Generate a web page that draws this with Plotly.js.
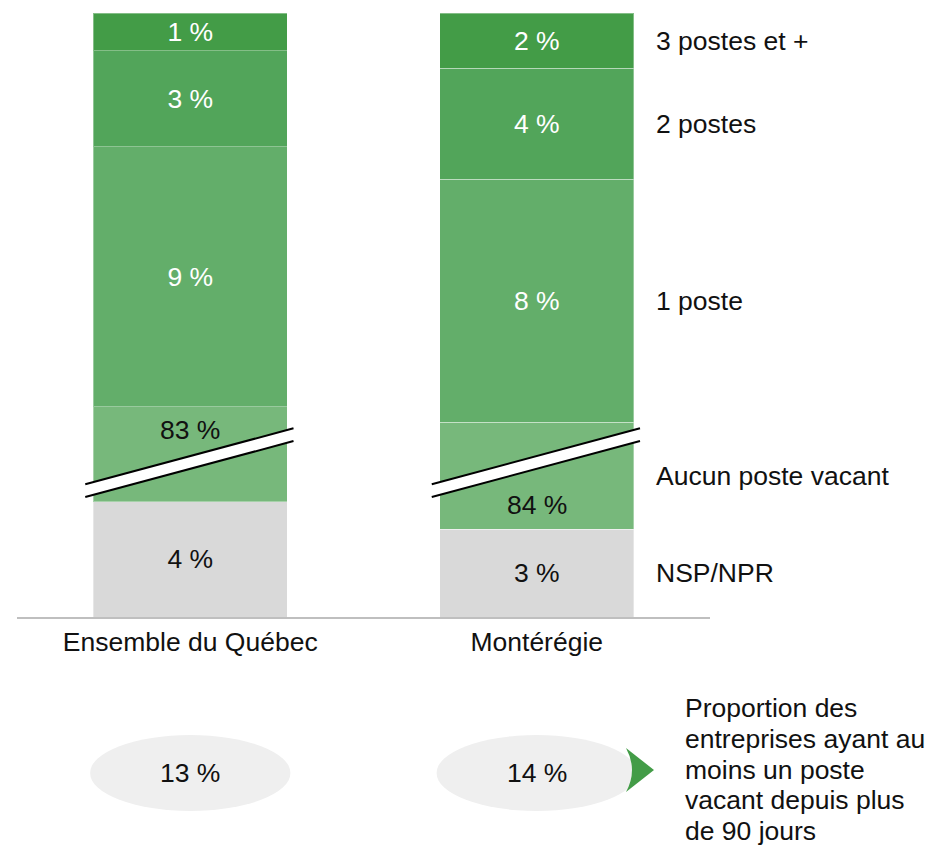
<!DOCTYPE html>
<html>
<head>
<meta charset="utf-8">
<script src="https://cdn.plot.ly/plotly-3.0.1.min.js"></script>
<style>html,body{margin:0;padding:0;background:#fff;}#chart{width:942px;height:847px;}</style>
</head>
<body>
<div id="chart"></div>
<script>
// ---- data (segment heights as drawn, in % units; "Aucun" is drawn truncated) ----
const categories = ['Ensemble du Québec', 'Montérégie'];
const seriesNames = ['NSP/NPR', 'Aucun poste vacant', '1 poste', '2 postes', '3 postes et +'];
const nspHeights = [3.97, 3.03];
const nspLabels = ['4 %', '3 %'];
const aucunHeights = [3.28, 3.69];       // truncated display (broken bar)
const aucunLabels = ['83 %', '84 %'];
const poste1Heights = [8.97, 8.38];
const poste1Labels = ['9 %', '8 %'];
const postes2Heights = [3.31, 3.83];
const postes2Labels = ['3 %', '4 %'];
const postes3Heights = [1.31, 1.90];
const postes3Labels = ['1 %', '2 %'];
const longVacancy = [13, 14];
const longVacancyLabels = ['13 %', '14 %'];
const noteLines = ['Proportion des', 'entreprises ayant au', 'moins un poste', 'vacant depuis plus', 'de 90 jours'];

const colors = ['#d9d9d9', '#77b87b', '#63ae6a', '#52a55a', '#439c47'];
const textColors = ['#111111', '#111111', '#ffffff', '#ffffff', '#ffffff'];
const FONT = 'Liberation Sans, Arial, sans-serif';
const FS = 26.5;

const xs = [0, 1];
const heights = [nspHeights, aucunHeights, poste1Heights, postes2Heights, postes3Heights];
const labels = [nspLabels, ['', ''], poste1Labels, postes2Labels, postes3Labels];

const traces = heights.map((h, i) => ({
  type: 'bar', x: xs, y: h, name: seriesNames[i],
  width: 0.56,
  marker: {color: colors[i], line: {color: 'rgba(255,255,255,0.35)', width: 1}},
  text: labels[i], textposition: 'inside', insidetextanchor: 'middle',
  constraintext: 'none', textangle: 0,
  textfont: {family: FONT, size: FS, color: textColors[i]},
  hoverinfo: 'skip', showlegend: false
}));

const totals = xs.map((_, j) => heights.reduce((s, arr) => s + arr[j], 0));
const yMax = Math.max(...totals);

// plot-area geometry (pixels) for paper conversions
const M = {l: 17, r: 232, t: 13, b: 230};
const W = 942, H = 847;
const pw = W - M.l - M.r, ph = H - M.t - M.b;
const px2paperX = px => (px - M.l) / pw;
const py2paperY = py => (H - M.b - py) / ph;

const annotations = [];
const shapes = [];
const txt = {family: FONT, size: FS, color: '#111111'};

// Aucun labels (placed clear of the break)
annotations.push({x: 0, y: nspHeights[0] + aucunHeights[0], xref: 'x', yref: 'y', yanchor: 'top', yshift: -6,
  text: aucunLabels[0], showarrow: false, font: txt});
annotations.push({x: 1, y: nspHeights[1], xref: 'x', yref: 'y', yanchor: 'bottom', yshift: 7,
  text: aucunLabels[1], showarrow: false, font: txt});

// series labels at right, aligned to Montérégie segments
let acc = 0;
heights.forEach((h, i) => {
  const mid = acc + h[1] / 2; acc += h[1];
  annotations.push({x: px2paperX(654), xref: 'paper', xanchor: 'left', y: mid, yref: 'y', yanchor: 'middle',
    text: seriesNames[i], showarrow: false, font: txt});
});

// break marks
const bx0 = -0.303, bx1 = 0.298, bLow = 4.14, bRise = 1.93, bGap = 0.44;
xs.forEach(x => {
  const a = x + bx0, b = x + bx1;
  shapes.push({type: 'path', xref: 'x', yref: 'y', layer: 'above',
    path: `M ${a},${bLow} L ${b},${bLow + bRise} L ${b},${bLow + bRise + bGap} L ${a},${bLow + bGap} Z`,
    fillcolor: '#ffffff', line: {width: 0}});
  shapes.push({type: 'line', xref: 'x', yref: 'y', layer: 'above', x0: a, y0: bLow, x1: b, y1: bLow + bRise,
    line: {color: '#000', width: 2}});
  shapes.push({type: 'line', xref: 'x', yref: 'y', layer: 'above', x0: a, y0: bLow + bGap, x1: b, y1: bLow + bRise + bGap,
    line: {color: '#000', width: 2}});
});

// ellipses with long-vacancy proportion
xs.forEach((x, j) => {
  shapes.push({type: 'circle', xref: 'x', yref: 'paper', x0: x - 0.289, x1: x + 0.289,
    y0: py2paperY(811), y1: py2paperY(735), fillcolor: '#efefef', line: {width: 0}, layer: 'below'});
  annotations.push({x: x, xref: 'x', y: py2paperY(773), yref: 'paper', yanchor: 'middle', text: longVacancyLabels[j],
    showarrow: false, font: txt});
});

// green chevron
const P = (x, y) => `${px2paperX(x)},${py2paperY(y)}`;
shapes.push({type: 'path', xref: 'paper', yref: 'paper',
  path: `M ${P(626, 748)} L ${P(654, 770)} L ${P(626, 792)} Q ${P(638, 770)} ${P(626, 748)} Z`,
  fillcolor: '#439c47', line: {width: 0}});

// note text
noteLines.forEach((t, k) => {
  annotations.push({x: px2paperX(683), xref: 'paper', xanchor: 'left', y: py2paperY(708 + k * 30.75), yref: 'paper',
    yanchor: 'middle', text: t, showarrow: false, font: txt});
});

const layout = {
  width: W, height: H, margin: M,
  paper_bgcolor: '#fff', plot_bgcolor: '#fff',
  barmode: 'stack', showlegend: false,
  font: txt,
  xaxis: {range: [-0.5, 1.5], tickvals: xs, ticktext: categories, showline: true, linecolor: '#bfbfbf', linewidth: 2,
    ticks: '', showgrid: false, zeroline: false, fixedrange: true, tickfont: txt},
  yaxis: {range: [0, yMax], visible: false, fixedrange: true},
  shapes: shapes, annotations: annotations
};

Plotly.newPlot('chart', traces, layout, {displayModeBar: false, staticPlot: true});
</script>
</body>
</html>
